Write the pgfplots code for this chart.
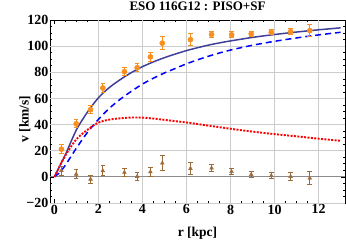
\documentclass[border=0pt]{standalone}
\usepackage{pgfplots}
\usepackage{pgfplotstable}
\pgfplotsset{compat=1.18}
\usepackage{fontspec}
\setmainfont{Liberation Serif}
\definecolor{dataor}{HTML}{F7901E}
\definecolor{databr}{HTML}{9C6B3A}
\definecolor{totcol}{HTML}{40409A}
\definecolor{gridc}{HTML}{CCCCCC}
\definecolor{zeroc}{HTML}{8C8C8C}

\pgfplotstableread{
r v e
0.32 21.2 3.4
0.99 40.6 3.0
1.64 51.4 3.0
2.20 68.0 3.8
3.18 80.5 3.2
3.76 83.5 3.0
4.36 91.8 3.5
4.90 102.3 5.0
6.18 105.0 4.5
7.14 109.0 2.2
8.05 108.7 2.2
8.94 109.4 1.8
9.85 110.6 2.0
10.73 111.1 2.5
11.60 111.9 4.7
}\orangedata

\pgfplotstableread{
r v e
0.32 4.8 3.4
0.99 2.0 3.3
1.64 -1.8 3.2
2.20 4.6 3.8
3.18 3.4 3.2
3.76 0.3 3.4
4.36 3.8 3.4
4.90 10.5 6.0
6.18 6.4 4.7
7.14 6.7 2.8
8.05 4.0 2.5
8.94 1.8 2.5
9.85 0.9 2.5
10.73 0.2 3.0
11.60 -1.0 4.8
}\browndata

\pgfplotstableread{
r v
0 0
0.25 8.5
0.5 17.0
1.0 36.0
1.5 49.5
2.0 60.5
2.5 68.4
3.0 74.5
3.5 79.8
4.0 84.3
4.5 88.0
5.0 91.2
5.5 94.0
6.0 96.6
6.5 98.8
7.0 100.8
7.5 102.5
8.0 104.0
9.0 106.7
10.0 108.9
11.0 110.8
12.0 112.5
13.0 114.0
}\total

\pgfplotstableread{
r v
0 0
0.25 3.5
0.5 9.0
1.0 22.0
1.5 34.0
2.0 44.0
2.5 52.5
3.0 59.5
3.5 65.5
4.0 71.0
4.5 75.5
5.0 79.5
5.5 83.0
6.0 86.5
6.5 89.5
7.0 92.3
7.5 94.8
8.0 97.0
9.0 100.7
10.0 103.7
11.0 106.3
12.0 108.6
13.0 110.6
}\halo

\pgfplotstableread{
r v
0 0
0.25 8.5
0.5 16.5
1.0 28.8
1.5 36.0
2.0 41.5
2.5 43.8
3.0 44.8
3.5 45.4
4.0 45.3
4.5 44.6
5.0 43.6
5.5 42.6
6.0 41.6
6.5 40.4
7.0 39.2
7.5 38.0
8.0 36.8
9.0 34.6
10.0 32.7
11.0 31.0
12.0 29.2
13.0 27.6
}\disk

\begin{document}
\begin{tikzpicture}
\useasboundingbox (-50pt,-39pt) rectangle (296pt,203pt);
\begin{axis}[
  at={(0pt,0pt)}, anchor=south west,
  width=295pt, height=183pt, scale only axis,
  xmin=-0.2, xmax=13.2, ymin=-20, ymax=120,
  xtick={0,2,...,12},
  ytick={-20,0,20,40,60,80,100,120},
  yticklabels={−20,0,20,40,60,80,100,120},
  minor x tick num=3, minor y tick num=3,
  tick align=inside,
  major tick length=4pt, minor tick length=2pt,
  tick style={black, line width=0.6pt},
  axis line style={black, line width=0.8pt},
  /pgf/number format/assume math mode=true,
  ticklabel style={font=\fontsize{14}{16}\selectfont\bfseries, inner sep=1.5pt},
  xlabel={r [kpc]}, ylabel={v [km/s]},
  label style={font=\fontsize{13.5}{16}\selectfont\bfseries},
  xlabel style={at={(axis description cs:0.5,0)}, anchor=center, yshift=-30pt},
  every axis y label/.append style={at={(ticklabel cs:0.47)}, anchor=center, xshift=-2pt},
  title={ESO 116G12 : PISO+SF},
  title style={font=\fontsize{13}{15}\selectfont\bfseries, at={(axis description cs:0.5,1)}, anchor=south, yshift=2pt, inner sep=1pt},
  clip=false,
]
% grid
\foreach \x in {2,4,6,8,10,12} {
  \edef\temp{\noexpand\draw[gridc, line width=0.8pt] (axis cs:\x,-20) -- (axis cs:\x,120);}
  \temp
}
\foreach \y in {-20,20,40,60,80,100} {
  \edef\temp{\noexpand\draw[gridc, line width=0.8pt] (axis cs:-0.2,\y) -- (axis cs:13.2,\y);}
  \temp
}
\draw[zeroc, line width=0.9pt] (axis cs:-0.2,0) -- (axis cs:13.2,0);

\addplot[totcol, line width=1.5pt, smooth, no markers] table[x=r,y=v] {\total};
\addplot[blue, line width=1.5pt, dash pattern=on 6pt off 4pt, smooth, no markers] table[x=r,y=v] {\halo};
\addplot[red, line width=1.9pt, dash pattern=on 2pt off 1.4pt, smooth, no markers] table[x=r,y=v] {\disk};

\addplot[only marks, mark=*, mark size=2.6pt, color=dataor,
  error bars/.cd, y dir=both, y explicit,
  error bar style={color=dataor, line width=1pt},
  error mark options={rotate=90, mark size=2.3pt, line width=1pt, color=dataor}]
  table[x=r, y=v, y error=e] {\orangedata};

\addplot[only marks, mark=triangle*, mark size=2.2pt, color=databr,
  error bars/.cd, y dir=both, y explicit,
  error bar style={color=databr, line width=1pt},
  error mark options={rotate=90, mark size=2.3pt, line width=1pt, color=databr}]
  table[x=r, y=v, y error=e] {\browndata};
\end{axis}
\end{tikzpicture}
\end{document}
